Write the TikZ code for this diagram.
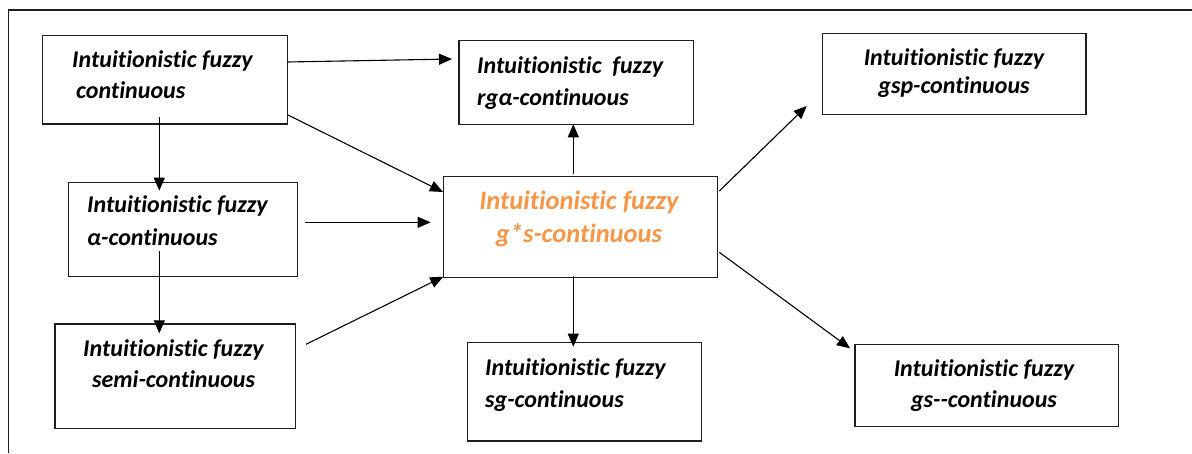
\documentclass[tikz,border=0pt]{standalone}
\usepackage{fontspec}
\setmainfont{Carlito}[Ligatures={NoCommon,NoRequired}]
\usetikzlibrary{arrows.meta}
\definecolor{orng}{RGB}{247,150,70}
\definecolor{ink}{RGB}{30,30,30}
\begin{document}
\begin{tikzpicture}[x=1pt,y=-1pt,
  box/.style={draw=ink, line width=1.2pt, inner sep=0pt, outer sep=0pt},
  txt/.style={anchor=base west, inner sep=0pt, text=black, font=\fontsize{24}{28}\selectfont\bfseries\itshape},
  ctxt/.style={anchor=base, inner sep=0pt, text=black, font=\fontsize{24}{28}\selectfont\bfseries\itshape},
  otxt/.style={anchor=base, inner sep=0pt, text=orng, font=\fontsize{26.5}{30}\selectfont\bfseries\itshape},
  arr/.style={draw=black, line width=1.1pt, -{Triangle[length=13pt,width=11pt]}}]
\useasboundingbox (0,0) rectangle (1192,453);
% outer frame (top and left edges only)
\coordinate (fa) at (8.3,453);
\coordinate (fb) at (8.3,10);
\coordinate (fc) at (1192,10);
\draw[draw=ink, line width=1.2pt] (fa) -- (fb) -- (fc);
% boxes
\node[box, minimum width=244.6pt, minimum height=88.3pt] (c1) at (165,79.85) {};
\node[box, minimum width=229pt, minimum height=94.4pt] (c2) at (182.8,229.5) {};
\node[box, minimum width=240.3pt, minimum height=104.3pt] (c3) at (175.2,376.2) {};
\node[box, minimum width=234.3pt, minimum height=83.6pt] (c4) at (576.2,82.5) {};
\node[box, minimum width=274pt, minimum height=101pt] (c5) at (580.3,227.2) {};
\node[box, minimum width=234.4pt, minimum height=98.7pt] (c6) at (584.5,391.7) {};
\node[box, minimum width=263.3pt, minimum height=80.6pt] (c7) at (954.4,74) {};
\node[box, minimum width=263.3pt, minimum height=82.4pt] (c8) at (986.7,385.5) {};
% texts
\node[txt] (t1a) at (72,67) {Intuitionistic fuzzy};
\node[txt] (t1b) at (76,98) {continuous};
\node[txt] (t2a) at (87,212) {Intuitionistic fuzzy};
\node[txt] (t2b) at (87,245) {α-continuous};
\node[txt] (t3a) at (83,356) {Intuitionistic fuzzy};
\node[txt] (t3b) at (92,387) {semi-continuous};
\node[txt] (t4a) at (477,73) {Intuitionistic\ \ fuzzy};
\node[txt] (t4b) at (477,105) {rgα-continuous};
\node[otxt] (t5a) at (579,209) {Intuitionistic fuzzy};
\node[otxt] (t5b) at (579,242) {g*s-continuous};
\node[txt] (t6a) at (485,375) {Intuitionistic fuzzy};
\node[txt] (t6b) at (485,407) {sg-continuous};
\node[ctxt] (t7a) at (954,65) {Intuitionistic fuzzy};
\node[ctxt] (t7b) at (954,93) {gsp-continuous};
\node[ctxt] (t8a) at (984,376) {Intuitionistic fuzzy};
\node[ctxt] (t8b) at (984,407) {gs-{}-continuous};
% connector end points
\coordinate (a1) at (287.3,62);
\coordinate (a2) at (452,59);
\coordinate (b1) at (288,115);
\coordinate (b2) at (443,192);
\coordinate (c1s) at (159.3,116.7);
\coordinate (c1e) at (159.3,190.7);
\coordinate (d1) at (159.3,250.7);
\coordinate (d2) at (159.3,333.3);
\coordinate (e1) at (305,222.3);
\coordinate (e2) at (430.7,222.3);
\coordinate (f1) at (306,344.3);
\coordinate (f2) at (443.3,276.7);
\coordinate (g1) at (573.3,174);
\coordinate (g2) at (573.3,124.3);
\coordinate (h1) at (573.3,276);
\coordinate (h2) at (573.3,346.7);
\coordinate (i1) at (719.3,191);
\coordinate (i2) at (806.7,106);
\coordinate (j1) at (719.3,252.3);
\coordinate (j2) at (850,348.3);
% connectors
\draw[arr] (a1) -- (a2);
\draw[arr] (b1) -- (b2);
\draw[arr] (c1s) -- (c1e);
\draw[arr] (d1) -- (d2);
\draw[arr] (e1) -- (e2);
\draw[arr] (f1) -- (f2);
\draw[arr] (g1) -- (g2);
\draw[arr] (h1) -- (h2);
\draw[arr] (i1) -- (i2);
\draw[arr] (j1) -- (j2);
\end{tikzpicture}
\end{document}
